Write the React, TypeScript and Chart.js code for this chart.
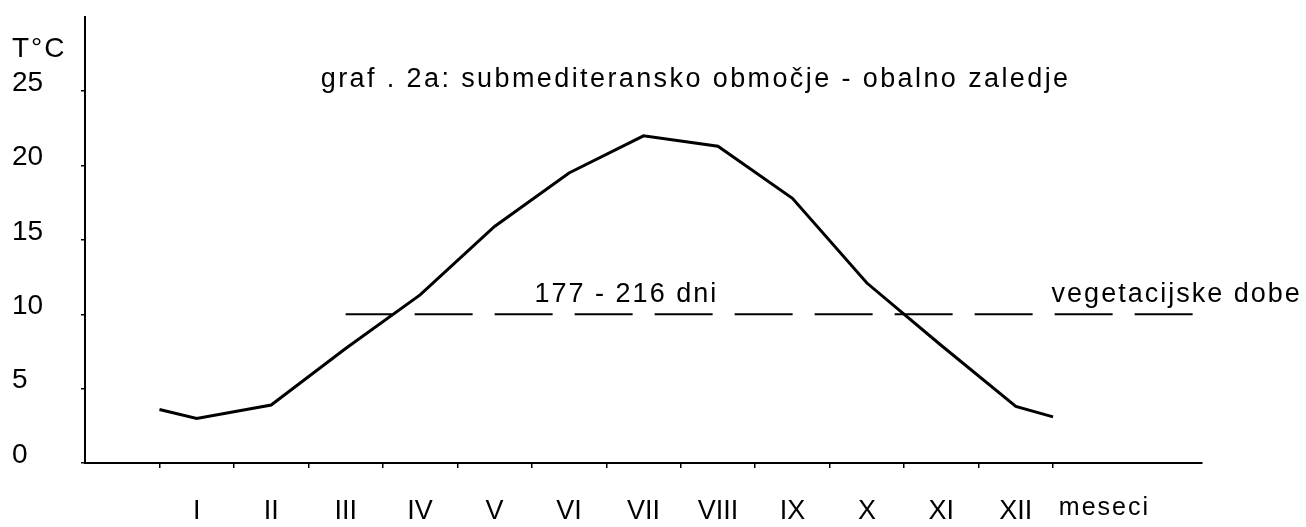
import { useEffect, useRef } from 'react';
import { Chart, registerables } from 'chart.js';

Chart.register(...registerables);

// ---- data ----
const monthLabels = ['I', 'II', 'III', 'IV', 'V', 'VI', 'VII', 'VIII', 'IX', 'X', 'XI', 'XII'];
// mean monthly temperature (°C), plotted at the middle of each month
const monthTemps = [3.0, 3.9, 7.7, 11.3, 15.9, 19.5, 22.0, 21.3, 17.8, 12.1, 7.9, 3.8];
// values at the start (1 Jan) and end (31 Dec) of the year
const yearStartTemp = 3.6;
const yearEndTemp = 3.1;
// vegetation period threshold line
const vegetationThreshold = 10;
const vegetationFrom = 2.5;
const vegetationTo = 14;
const yTickValues = [0, 5, 10, 15, 20, 25];

const titleText = 'graf . 2a: submediteransko območje - obalno zaledje';
const periodText = '177 - 216 dni';
const seasonText = 'vegetacijske dobe';
const unitText = 'T°C';
const xAxisText = 'meseci';

const FONT = '"Liberation Sans", Arial, sans-serif';

const annotationPlugin = {
  id: 'textAnnotations',
  afterDraw(chart: any) {
    const { ctx } = chart;
    const x = chart.scales.x;
    const y = chart.scales.y;
    ctx.save();
    ctx.fillStyle = '#000';
    ctx.textBaseline = 'alphabetic';
    ctx.textAlign = 'center';
    ctx.font = `27px ${FONT}`;
    try { (ctx as any).letterSpacing = '2.4px'; } catch (e) { /* ignore */ }
    ctx.fillText(titleText, x.getPixelForValue(7.2), y.getPixelForValue(25.27));
    try { (ctx as any).letterSpacing = '2px'; } catch (e) { /* ignore */ }
    ctx.fillText(periodText, x.getPixelForValue(6.27), y.getPixelForValue(10.8));
    ctx.fillText(seasonText, x.getPixelForValue(13.66), y.getPixelForValue(10.8));
    ctx.font = `25px ${FONT}`;
    ctx.fillText(xAxisText, x.getPixelForValue(12.69), y.getPixelForValue(-3.5));
    ctx.font = `28px ${FONT}`;
    ctx.textAlign = 'left';
    ctx.fillText(unitText, y.left, y.getPixelForValue(27.3));
    ctx.restore();
  },
};

export default function App() {
  const ref = useRef<HTMLCanvasElement>(null);

  useEffect(() => {
    const curve = [
      { x: 0, y: yearStartTemp },
      ...monthTemps.map((t, i) => ({ x: i + 0.5, y: t })),
      { x: 12, y: yearEndTemp },
    ];
    const threshold = [
      { x: vegetationFrom, y: vegetationThreshold },
      { x: vegetationTo, y: vegetationThreshold },
    ];

    const chart = new Chart(ref.current as HTMLCanvasElement, {
      type: 'line',
      data: {
        datasets: [
          {
            data: curve as any,
            borderColor: '#000',
            borderWidth: 3,
            pointRadius: 0,
            tension: 0,
            fill: false,
          },
          {
            data: threshold as any,
            borderColor: '#000',
            borderWidth: 2,
            borderDash: [58, 22],
            borderDashOffset: 11,
            pointRadius: 0,
            fill: false,
          },
        ],
      },
      options: {
        responsive: false,
        animation: false,
        events: [],
        layout: { padding: { left: 12, top: 12, right: 104, bottom: 0 } },
        plugins: {
          legend: { display: false },
          title: { display: false },
          tooltip: { enabled: false },
        },
        scales: {
          x: {
            type: 'linear',
            min: -1,
            max: 14,
            afterBuildTicks: (scale: any) => {
              const t: { value: number }[] = [];
              for (let i = 0; i <= monthLabels.length; i++) t.push({ value: i });
              monthLabels.forEach((_, i) => t.push({ value: i + 0.5 }));
              t.sort((a, b) => a.value - b.value);
              scale.ticks = t;
            },
            afterFit: (scale: any) => {
              scale.height = 64;
            },
            ticks: {
              autoSkip: false,
              maxRotation: 0,
              minRotation: 0,
              padding: 27,
              color: '#000',
              font: { family: FONT, size: 27 },
              callback: (v: any) =>
                Number.isInteger(v) ? '' : monthLabels[Math.floor(v)] ?? '',
            },
            grid: {
              drawOnChartArea: false,
              drawTicks: true,
              tickLength: 5,
              lineWidth: 1.5,
              color: (c: any) =>
                c.tick && Number.isInteger(c.tick.value) ? '#000' : 'rgba(0,0,0,0)',
            },
            border: { display: true, color: '#000', width: 2 },
          },
          y: {
            type: 'linear',
            min: 0,
            max: 30,
            afterBuildTicks: (scale: any) => {
              scale.ticks = [...yTickValues, 30].map((v) => ({ value: v }));
            },
            afterFit: (scale: any) => {
              scale.width = 73;
            },
            ticks: {
              padding: 0,
              crossAlign: 'far',
              labelOffset: -8,
              color: '#000',
              font: { family: FONT, size: 28 },
              callback: (v: any) => (yTickValues.includes(v) ? String(v) : null),
            },
            grid: {
              drawOnChartArea: false,
              drawTicks: true,
              tickLength: 4,
              lineWidth: 1.5,
              color: '#000',
            },
            border: { display: true, color: '#000', width: 2 },
          },
        },
      },
      plugins: [annotationPlugin],
    } as any);

    return () => chart.destroy();
  }, []);

  return (
    <div
      style={{
        position: 'fixed',
        left: 0,
        top: 0,
        width: 1306,
        height: 527,
        background: '#fff',
      }}
    >
      <canvas ref={ref} width={1306} height={527} style={{ display: 'block' }} />
    </div>
  );
}
